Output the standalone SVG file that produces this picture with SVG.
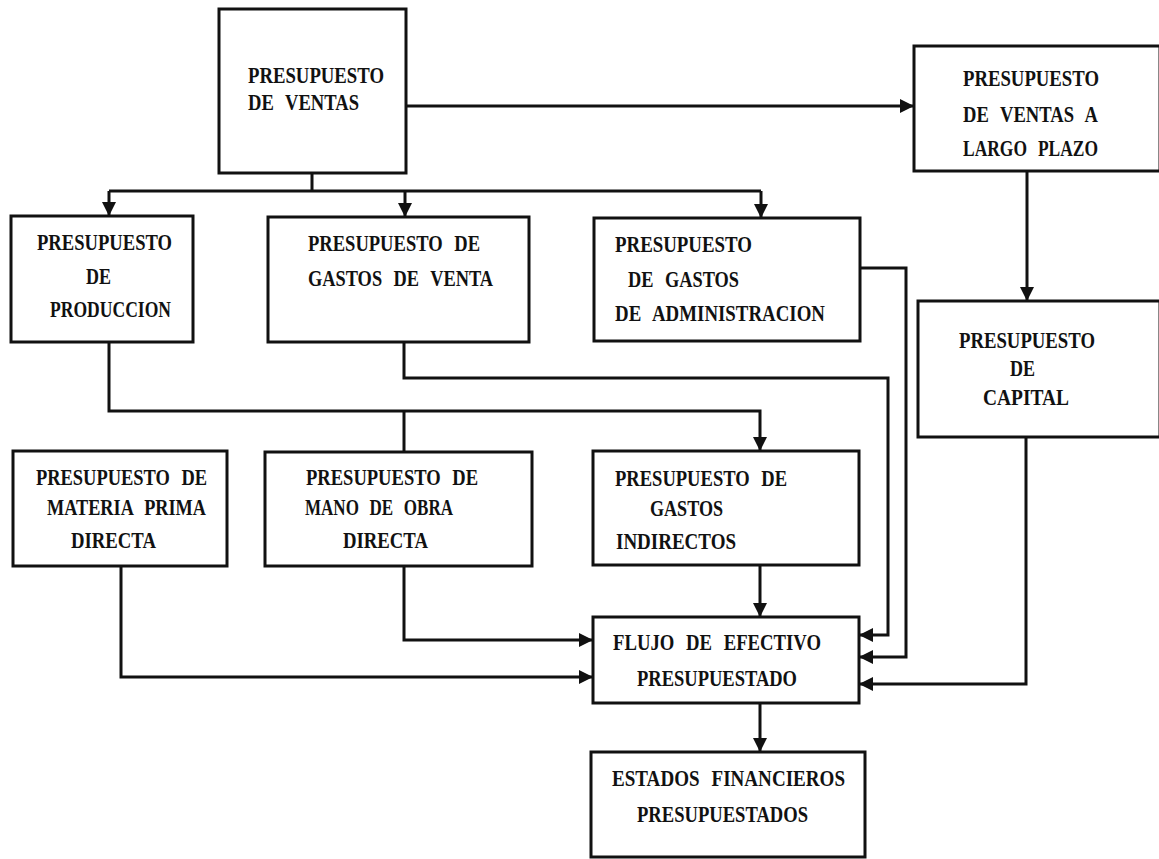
<svg xmlns="http://www.w3.org/2000/svg" width="1159" height="859" viewBox="0 0 1159 859">
<style>
.box{fill:#fff;stroke:#111;stroke-width:3}
.t{font-family:"Liberation Serif",serif;font-weight:bold;font-size:24px;fill:#111;word-spacing:9px}
.c{fill:none;stroke:#111;stroke-width:3}
</style>
<defs>
<marker id="ah" markerUnits="userSpaceOnUse" markerWidth="14" markerHeight="14" refX="13" refY="7" orient="auto">
<path d="M0,0 L14,7 L0,14 z" fill="#111"/>
</marker>
</defs>
<rect width="1159" height="859" fill="#fff"/>
<g id="connectors">
<path class="c" d="M406,106 H913" marker-end="url(#ah)"/>
<path class="c" d="M312,173 V191 M109,191 H761"/>
<path class="c" d="M109,191 V215" marker-end="url(#ah)"/>
<path class="c" d="M405,191 V216" marker-end="url(#ah)"/>
<path class="c" d="M761,191 V217" marker-end="url(#ah)"/>
<path class="c" d="M1027,171 V300" marker-end="url(#ah)"/>
<path class="c" d="M404,342 V378 H888 V635 H860" marker-end="url(#ah)"/>
<path class="c" d="M860,268 H906 V657 H860" marker-end="url(#ah)"/>
<path class="c" d="M109,342 V411 H760 V450" marker-end="url(#ah)"/>
<path class="c" d="M404,411 V452"/>
<path class="c" d="M760,565 V616" marker-end="url(#ah)"/>
<path class="c" d="M404,566 V640 H592" marker-end="url(#ah)"/>
<path class="c" d="M121,566 V677 H592" marker-end="url(#ah)"/>
<path class="c" d="M1026,437 V684 H860" marker-end="url(#ah)"/>
<path class="c" d="M760,703 V751" marker-end="url(#ah)"/>
</g>
<g id="ventas">
<rect class="box" x="219" y="9" width="187" height="164"/>
<text class="t" x="248" y="83" textLength="136" lengthAdjust="spacingAndGlyphs">PRESUPUESTO</text>
<text class="t" x="248" y="110" textLength="111" lengthAdjust="spacingAndGlyphs">DE VENTAS</text>
</g>
<g id="ventas-largo-plazo">
<rect class="box" x="914" y="46" width="246" height="125"/>
<text class="t" x="963" y="86" textLength="136" lengthAdjust="spacingAndGlyphs">PRESUPUESTO</text>
<text class="t" x="963" y="122" textLength="135" lengthAdjust="spacingAndGlyphs">DE VENTAS A</text>
<text class="t" x="963" y="156" textLength="135" lengthAdjust="spacingAndGlyphs">LARGO PLAZO</text>
</g>
<g id="capital">
<rect class="box" x="918" y="301" width="242" height="136"/>
<text class="t" x="959" y="348" textLength="136" lengthAdjust="spacingAndGlyphs">PRESUPUESTO</text>
<text class="t" x="1010" y="376" textLength="25" lengthAdjust="spacingAndGlyphs">DE</text>
<text class="t" x="983" y="405" textLength="86" lengthAdjust="spacingAndGlyphs">CAPITAL</text>
</g>
<g id="produccion">
<rect class="box" x="11" y="216" width="182" height="126"/>
<text class="t" x="37" y="250" textLength="135" lengthAdjust="spacingAndGlyphs">PRESUPUESTO</text>
<text class="t" x="86" y="284" textLength="25" lengthAdjust="spacingAndGlyphs">DE</text>
<text class="t" x="50" y="317" textLength="121" lengthAdjust="spacingAndGlyphs">PRODUCCION</text>
</g>
<g id="gastos-venta">
<rect class="box" x="268" y="217" width="261" height="125"/>
<text class="t" x="308" y="251" textLength="172" lengthAdjust="spacingAndGlyphs">PRESUPUESTO DE</text>
<text class="t" x="308" y="286" textLength="185" lengthAdjust="spacingAndGlyphs">GASTOS DE VENTA</text>
</g>
<g id="gastos-administracion">
<rect class="box" x="594" y="218" width="266" height="123"/>
<text class="t" x="615" y="252" textLength="137" lengthAdjust="spacingAndGlyphs">PRESUPUESTO</text>
<text class="t" x="628" y="287" textLength="111" lengthAdjust="spacingAndGlyphs">DE GASTOS</text>
<text class="t" x="615" y="321" textLength="210" lengthAdjust="spacingAndGlyphs">DE ADMINISTRACION</text>
</g>
<g id="materia-prima">
<rect class="box" x="13" y="451" width="214" height="115"/>
<text class="t" x="36" y="485" textLength="171" lengthAdjust="spacingAndGlyphs">PRESUPUESTO DE</text>
<text class="t" x="47" y="515" textLength="159" lengthAdjust="spacingAndGlyphs">MATERIA PRIMA</text>
<text class="t" x="71" y="548" textLength="85" lengthAdjust="spacingAndGlyphs">DIRECTA</text>
</g>
<g id="mano-obra">
<rect class="box" x="265" y="452" width="267" height="114"/>
<text class="t" x="306" y="485" textLength="172" lengthAdjust="spacingAndGlyphs">PRESUPUESTO DE</text>
<text class="t" x="305" y="515" textLength="148" lengthAdjust="spacingAndGlyphs">MANO DE OBRA</text>
<text class="t" x="343" y="548" textLength="85" lengthAdjust="spacingAndGlyphs">DIRECTA</text>
</g>
<g id="gastos-indirectos">
<rect class="box" x="593" y="451" width="266" height="114"/>
<text class="t" x="615" y="486" textLength="172" lengthAdjust="spacingAndGlyphs">PRESUPUESTO DE</text>
<text class="t" x="650" y="516" textLength="73" lengthAdjust="spacingAndGlyphs">GASTOS</text>
<text class="t" x="616" y="549" textLength="120" lengthAdjust="spacingAndGlyphs">INDIRECTOS</text>
</g>
<g id="flujo-efectivo">
<rect class="box" x="593" y="617" width="266" height="86"/>
<text class="t" x="613" y="650" textLength="208" lengthAdjust="spacingAndGlyphs">FLUJO DE EFECTIVO</text>
<text class="t" x="637" y="686" textLength="160" lengthAdjust="spacingAndGlyphs">PRESUPUESTADO</text>
</g>
<g id="estados-financieros">
<rect class="box" x="591" y="752" width="274" height="105"/>
<text class="t" x="612" y="786" textLength="233" lengthAdjust="spacingAndGlyphs">ESTADOS FINANCIEROS</text>
<text class="t" x="637" y="822" textLength="171" lengthAdjust="spacingAndGlyphs">PRESUPUESTADOS</text>
</g>
</svg>
